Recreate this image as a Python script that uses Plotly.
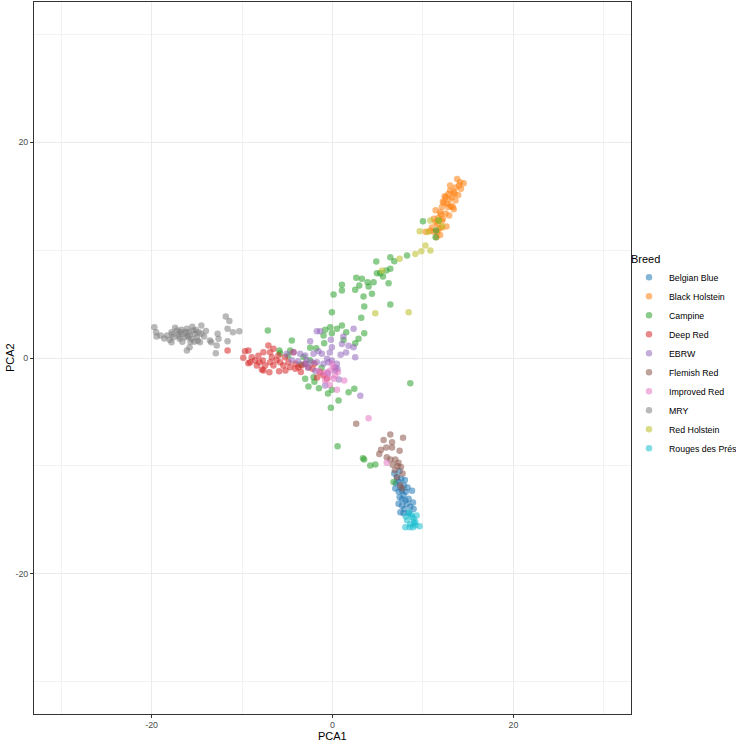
import plotly.graph_objects as go

breeds = ["Belgian Blue", "Black Holstein", "Campine", "Deep Red", "EBRW",
          "Flemish Red", "Improved Red", "MRY", "Red Holstein", "Rouges des Prés"]
colors = ["#1f77b4", "#ff7f0e", "#2ca02c", "#d62728", "#9467bd",
          "#8c564b", "#e377c2", "#7f7f7f", "#bcbd22", "#17becf"]

belgian_blue = [(6.83,-10.7),(7.13,-11.05),(7.31,-11.5),(7.5,-12.0),(6.94,-12.1),(7.31,-12.4),(7.69,-12.3),
    (7.86,-12.7),(7.42,-12.9),(8.05,-13.2),(8.42,-13.05),(8.79,-12.3),(8.24,-13.5),(7.69,-13.7),(8.6,-13.8),
    (7.94,-14.0),(8.97,-14.0),(8.42,-14.4),(7.86,-14.4),(7.5,-14.3),(7.6,-11.2),(7.9,-11.8),(8.1,-12.4),
    (7.0,-11.6),(8.3,-12.0),(7.7,-13.1),(8.9,-13.4),(7.3,-13.5),(8.0,-11.3),(7.4,-10.5)]
black_holstein = [(13.78,16.6),(14.5,16.2),(14.1,16.3),(13.0,16.0),(13.6,15.8),(14.2,15.7),(13.4,15.4),
    (12.8,15.2),(13.9,15.1),(13.2,14.9),(12.5,14.9),(13.6,14.6),(12.3,14.4),(12.7,14.3),(13.1,14.1),
    (12.1,14.0),(12.8,14.0),(13.4,13.8),(11.9,13.5),(12.5,13.4),(11.4,13.7),(12.9,13.2),(11.7,13.0),
    (11.2,12.9),(12.2,12.9),(12.1,12.7),(11.6,12.4),(11.0,12.1),(11.6,11.7),(12.1,12.1),(10.3,11.7),
    (11.2,11.7),(11.5,11.2),(12.6,12.2),(13.0,15.5),(12.4,15.0),(13.3,14.0),(12.0,13.3),(11.4,12.6),
    (12.9,14.7),(13.5,15.2),(14.0,16.0),(12.2,14.5),(11.8,12.0),(10.8,11.8),(11.9,11.4)]
campine = [(-0.07,4.25),(0.12,5.88),(1.04,6.8),(1.04,6.26),(2.63,7.43),(2.51,6.32),(2.96,6.72),(3.25,7.34),
    (3.43,5.7),(3.88,7.03),(3.99,6.63),(4.36,5.95),(3.51,4.77),(3.18,3.72),(4.54,7.03),(4.84,8.94),
    (4.91,7.86),(5.28,7.86),(5.58,7.55),(5.95,8.11),(6.2,6.94),(6.39,9.34),(6.39,8.27),(6.83,8.97),
    (6.39,4.96),(8.24,9.5),(10.0,12.68),(11.45,11.82),(11.74,12.74),(11.4,11.2),
    (1.04,3.01),(0.49,2.7),(-0.25,2.86),(-0.81,2.61),(-0.07,2.3),(-0.99,2.09),(1.52,2.39),(3.51,2.3),
    (1.22,1.68),(2.88,1.78),(2.51,1.37),(-0.92,1.37),(-4.5,1.62),(-2.47,0.94),(-4.68,0.7),(-5.79,0.45),
    (8.6,-2.33),(2.41,-2.86),(1.78,-3.17),(0.67,-3.94),(-0.18,-4.62),(-0.07,-2.95),(-2.1,-1.78),
    (-2.66,-2.64),(-3.02,-1.93),(0.56,-8.17),(3.37,-9.29),(3.5,-9.4),(4.17,-9.96),(4.73,-9.87),
    (6.75,-11.5),(-7.15,2.55),(-5.87,0.7),(-4.9,0.2),(-3.5,-0.6),(-2.5,-0.2),(-1.2,-0.9),(-2.0,-2.2),
    (-1.5,-2.8),(-0.5,-3.3),(-3.2,0.1),(-1.8,0.9)]
deep_red = [(-11.6,0.7),(-9.67,0.63),(-9.3,0.7),(-9.86,0.02),(-8.93,0.07),(-8.56,-0.23),(-8.37,-0.7),
    (-9.11,-0.39),(-8.08,-0.39),(-7.64,0.54),(-7.7,-0.23),(-7.45,-0.7),(-7.64,-1.16),(-7.09,1.16),
    (-6.9,0.54),(-6.7,0.07),(-6.9,-0.39),(-6.53,0.85),(-6.98,-1.32),(-6.53,-0.7),(-5.98,0.23),
    (-5.79,-0.39),(-5.9,-1.22),(-5.43,-0.7),(-5.25,0.07),(-4.87,-0.39),(-4.68,-0.85),(-4.32,0.54),
    (-4.1,-0.54),(-3.77,-0.85),(-3.4,-0.7),(-3.02,-0.54),(-2.66,-0.85),(-1.36,-1.32),(-1.0,-1.62),
    (-0.62,-1.93),(-9.3,-0.48),(-7.8,-1.06),(-5.2,-1.16),(-4.1,-1.0),(-3.5,-1.3),(-2.2,-1.0),
    (-2.0,-0.5),(-1.7,-1.8),(-8.2,0.2),(-6.2,-0.2)]
ebrw = [(-1.73,2.48),(-1.36,2.48),(2.33,2.7),(-2.47,1.56),(-0.18,1.69),(1.04,1.3),(1.77,1.13),(2.33,1.0),
    (2.51,0.07),(-0.07,1.0),(-1.55,0.63),(-1.18,0.39),(-2.1,0.39),(-3.02,0.23),(-3.58,0.39),(-4.3,0.54),
    (-5.05,0.39),(-0.6,-0.07),(-0.07,-0.23),(0.49,-0.54),(0.55,-1.0),(0.3,-1.16),(-0.44,-0.39),
    (-1.0,-0.54),(-1.73,-0.39),(-2.28,-0.39),(-2.84,-0.23),(-3.02,-0.54),(3.07,-3.5),(-0.8,-2.55),
    (1.5,0.5),(0.9,0.3),(-0.3,0.5),(-2.7,-0.9),(-1.9,-1.2),(-0.5,-1.4),(0.7,-2.0),(1.2,2.0),
    (0.3,-0.9),(-3.8,-0.3),(-4.5,-0.2)]
flemish_red = [(6.39,-7.1),(5.65,-7.6),(6.58,-7.8),(7.8,-7.4),(5.95,-8.3),(6.58,-8.3),(5.36,-8.5),
    (7.42,-8.6),(5.17,-8.9),(6.39,-9.4),(6.94,-9.4),(6.64,-9.9),(7.2,-10.0),(7.57,-10.1),(7.75,-10.7),
    (7.13,-11.05),(7.5,-11.8),(7.7,-12.1),(2.62,-6.1),(6.9,-10.4),(7.3,-9.7),(6.0,-9.2)]
improved_red = [(-0.07,-0.54),(0.12,-0.85),(-0.25,-1.16),(-0.62,-1.31),(-0.99,-1.47),(-0.44,-1.78),
    (0.12,-1.93),(0.49,-2.95),(-0.81,-2.09),(0.3,-1.62),(1.3,-2.09),(3.99,-5.58),(6.0,-9.7),
    (-1.5,-1.2),(0.6,-1.3),(-0.3,-2.5)]
mry = [(-19.7,2.86),(-19.5,2.39),(-19.45,1.99),(-19.0,2.09),(-18.3,2.09),(-17.8,2.39),(-17.6,1.93),
    (-17.2,2.55),(-17.05,2.24),(-16.9,1.78),(-16.7,2.61),(-16.5,2.24),(-16.3,1.93),(-16.1,2.7),
    (-15.9,2.39),(-15.8,2.09),(-15.6,1.78),(-15.4,2.55),(-15.2,2.24),(-15.0,1.93),(-14.8,2.39),
    (-14.5,3.01),(-14.5,2.24),(-14.65,1.47),(-16.1,0.7),(-15.8,1.0),(-17.8,1.47),(-13.55,1.62),
    (-13.4,1.47),(-12.7,2.24),(-12.6,1.78),(-12.8,1.16),(-12.9,0.45),(-11.8,3.85),(-11.4,3.42),
    (-11.6,2.7),(-11.6,1.56),(-11.0,2.39),(-10.3,2.49),(-18.0,1.7),(-17.4,2.8),(-16.6,1.5),(-16.0,2.0),
    (-15.5,2.9),(-15.1,2.6),(-14.9,1.6),(-17.0,2.0),(-16.2,2.4),(-15.7,1.5),(-14.2,2.0),(-18.6,1.8),
    (-17.7,2.2),(-16.8,2.4),(-15.3,1.5),(-14.0,2.5)]
red_holstein = [(5.47,8.11),(7.42,9.19),(9.16,9.65),(9.82,9.9),(10.27,10.43),(10.82,9.96),(9.64,11.76),
    (10.56,11.67),(10.82,12.74),(4.73,4.15),(8.42,4.24),(11.75,12.74),(12.11,12.18)]
rouges_des_pres = [(8.42,-14.3),(8.79,-14.75),(8.97,-14.9),(9.16,-15.2),(8.24,-15.05),(8.6,-15.4),
    (9.16,-15.5),(9.63,-15.6),(8.05,-15.7),(8.53,-15.7),(8.9,-15.7),(8.7,-14.5),(9.3,-14.6),
    (8.1,-14.7),(9.0,-15.3)]

series = [belgian_blue, black_holstein, campine, deep_red, ebrw, flemish_red,
          improved_red, mry, red_holstein, rouges_des_pres]

tick_vals = [-20, 0, 20]
tick_text = ["-20", "0", "20"]

FONT = "Liberation Sans, Arial, Helvetica, sans-serif"

fig = go.Figure()
for name, col, pts in zip(breeds, colors, series):
    fig.add_trace(go.Scatter(
        x=[p[0] for p in pts], y=[p[1] for p in pts], mode="markers", name=name,
        marker=dict(color=col, size=6.5, opacity=0.55, line=dict(width=0)),
    ))

axis_common = dict(
    range=[-33, 33], tickvals=tick_vals, ticktext=tick_text, zeroline=False,
    showgrid=True, gridcolor="#ebebeb", gridwidth=1,
    minor=dict(tick0=-30, dtick=20, showgrid=True, gridcolor="#f2f2f2", gridwidth=0.6, ticks=""),
    showline=True, linecolor="#333333", linewidth=1, mirror=True,
    ticks="outside", ticklen=3, tickcolor="#333333", tickwidth=1,
    tickfont=dict(family=FONT, size=8.8, color="#4d4d4d"),
    automargin=False,
)

fig.update_xaxes(**axis_common, ticklabelstandoff=-1)
fig.update_yaxes(**axis_common)

fig.add_annotation(text="PCA1", x=0.5, y=-0.0305, xref="paper", yref="paper",
                   xanchor="center", yanchor="middle", showarrow=False,
                   font=dict(family=FONT, size=11, color="#000000"))
fig.add_annotation(text="PCA2", x=-0.040, y=0.5, xref="paper", yref="paper",
                   xanchor="center", yanchor="middle", showarrow=False, textangle=-90,
                   font=dict(family=FONT, size=11, color="#000000"))

fig.update_layout(
    width=736, height=742,
    margin=dict(l=34, r=105, t=2, b=28, autoexpand=False),
    plot_bgcolor="white", paper_bgcolor="white",
    font=dict(family=FONT),
    legend=dict(
        title=dict(text="Breed", font=dict(family=FONT, size=11, color="#000000")),
        font=dict(family=FONT, size=8.8, color="#000000"),
        xref="container", x=629/736, xanchor="left", y=0.503, yanchor="middle",
        bgcolor="rgba(0,0,0,0)", tracegroupgap=0,
    ),
    showlegend=True,
)

fig.write_html("out.html", config={"displayModeBar": False},
               post_script="document.body.style.margin='0';document.body.style.padding='0';")
